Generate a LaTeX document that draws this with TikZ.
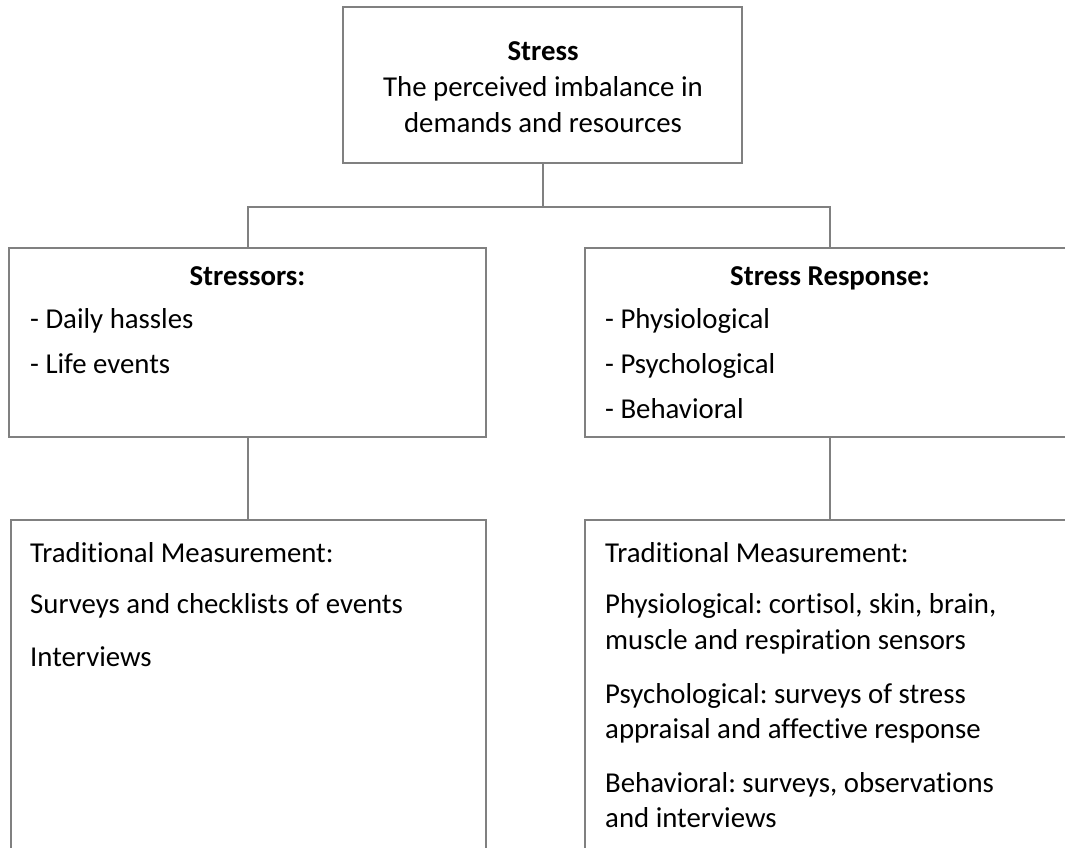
\documentclass[tikz,border=0pt]{standalone}
\usepackage{fontspec}
\setmainfont{Carlito}[Ligatures=NoCommon]
\frenchspacing
\usetikzlibrary{calc}
\definecolor{linegray}{RGB}{128,128,128}
\tikzset{
  boxnode/.style={draw=linegray, line width=2pt, rectangle, inner sep=0pt, fill=white},
  conn/.style={draw=linegray, line width=2pt},
  txt/.style={inner sep=0pt, anchor=base west, font=\fontsize{28.8}{36}\selectfont\frenchspacing, text=black},
  ctxt/.style={inner sep=0pt, anchor=base, font=\fontsize{28.8}{36}\selectfont\frenchspacing, text=black},
  btxt/.style={ctxt, font=\fontsize{28.8}{36}\selectfont\bfseries}
}
\begin{document}
\begin{tikzpicture}[x=1pt,y=-1pt]
\useasboundingbox (0,0) rectangle (1065,847);
\clip (0,0) rectangle (1065,847);
\fill[white] (0,0) rectangle (1065,847);
% boxes
\node[boxnode, minimum width=399pt, minimum height=156pt] (top) at (542.5,85) {};
\node[boxnode, minimum width=477pt, minimum height=189pt] (stressors) at (247.5,342.5) {};
\node[boxnode, minimum width=490pt, minimum height=189pt] (resp) at (830,342.5) {};
\node[boxnode, minimum width=475pt, minimum height=400pt] (meas1) at (248.5,720) {};
\node[boxnode, minimum width=490pt, minimum height=400pt] (meas2) at (830,720) {};
% connectors
\coordinate (junc) at ($(top.south)+(0,43)$);
\draw[conn] (top.south) -- (junc);
\draw[conn] (junc) -| (stressors.north);
\draw[conn] (junc) -| (resp.north);
\draw[conn] (stressors.south) -- (stressors.south |- meas1.north);
\draw[conn] (resp.south) -- (meas2.north);
% top text
\node[btxt] (t1) at (543,60) {Stress};
\node[ctxt] (t2) at (543,96) {The perceived imbalance in};
\node[ctxt] (t3) at (543,132) {demands and resources};
% stressors
\node[btxt] (s0) at (247.5,285) {Stressors:};
\node[txt] (s1) at (30,328) {- Daily hassles};
\node[txt] (s2) at (30,373) {- Life events};
% stress response
\node[btxt] (r0) at (830,285) {Stress Response:};
\node[txt] (r1) at (605,328) {- Physiological};
\node[txt] (r2) at (605,373) {- Psychological};
\node[txt] (r3) at (605,418) {- Behavioral};
% measurement left
\node[txt] (m1) at (30,562) {Traditional Measurement:};
\node[txt] (m2) at (30,613) {Surveys and checklists of events};
\node[txt] (m3) at (30,666) {Interviews};
% measurement right
\node[txt] (n1) at (605,562) {Traditional Measurement:};
\node[txt] (n2) at (605,613) {Physiological: cortisol, skin, brain,};
\node[txt] (n3) at (605,649) {muscle and respiration sensors};
\node[txt] (n4) at (605,703) {Psychological: surveys of stress};
\node[txt] (n5) at (605,738) {appraisal and affective response};
\node[txt] (n6) at (605,792) {Behavioral: surveys, observations};
\node[txt] (n7) at (605,827) {and interviews};
\end{tikzpicture}
\end{document}
